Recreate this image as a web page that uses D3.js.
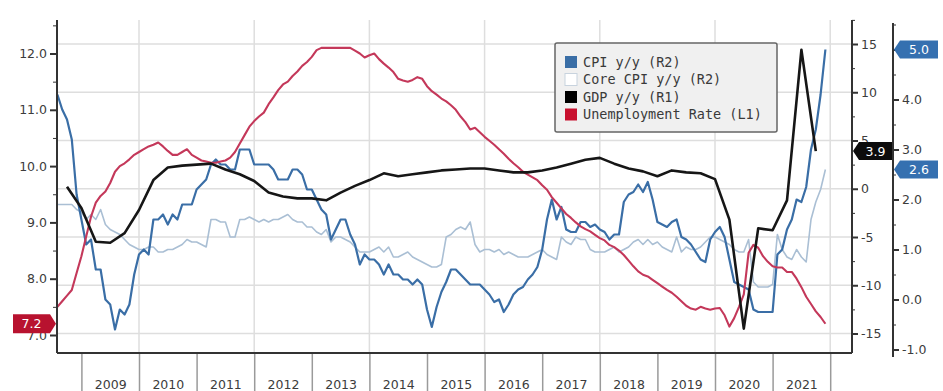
<!DOCTYPE html>
<html><head><meta charset="utf-8">
<script src="https://cdn.jsdelivr.net/npm/d3@7"></script>
<style>html,body{margin:0;padding:0;background:#fff;}svg{display:block;}</style>
</head><body><svg id="c" width="943" height="391"></svg>
<script>
// ---------- data ----------
const startYear = 2008, startMonth = 7; // monthly series start (Jul 2008)
const cpi = [
 4.1,3.8,3.6,3.2,2.1,1.6,
 1.1,1.2,0.6,0.6,0.0,-0.1,-0.6,-0.2,-0.3,-0.1,0.5,0.9,
 1.0,0.9,1.6,1.6,1.7,1.5,1.7,1.6,1.9,1.9,1.9,2.2,
 2.3,2.4,2.7,2.8,2.7,2.7,2.6,2.6,3.0,3.0,3.0,2.7,
 2.7,2.7,2.7,2.6,2.4,2.4,2.4,2.6,2.6,2.5,2.2,2.2,
 2.0,1.8,1.7,1.2,1.4,1.6,1.6,1.3,1.1,0.7,0.9,0.8,
 0.8,0.7,0.5,0.7,0.5,0.5,0.4,0.4,0.3,0.4,0.3,-0.2,
 -0.55,-0.15,0.15,0.35,0.6,0.6,0.5,0.4,0.3,0.3,0.3,0.2,
 0.1,-0.05,0.0,-0.25,-0.1,0.1,0.2,0.25,0.4,0.5,0.65,1.0,
 1.6,2.0,1.6,1.85,1.4,1.35,1.35,1.55,1.55,1.45,1.5,1.4,
 1.35,1.2,1.3,1.3,1.95,2.1,2.15,2.3,2.15,2.35,2.0,1.55,
 1.5,1.45,1.55,1.6,1.25,1.2,1.1,0.95,0.8,0.75,1.2,1.35,
 1.45,1.25,0.8,0.35,0.3,0.25,0.2,-0.2,-0.25,-0.25,-0.25,-0.25,
 0.9,1.0,1.4,1.6,2.0,1.95,2.25,3.0,3.4,4.1,5.0
];
const coreCpi = [
 1.9,1.9,1.9,1.9,1.8,1.75,
 1.6,1.7,1.6,1.8,1.5,1.4,1.35,1.3,1.2,1.1,1.05,1.0,
 1.0,1.05,1.05,0.95,0.95,1.0,1.0,1.05,1.1,1.2,1.15,1.15,
 1.1,1.05,1.6,1.6,1.55,1.55,1.25,1.25,1.6,1.6,1.65,1.6,
 1.55,1.6,1.55,1.6,1.6,1.65,1.7,1.6,1.55,1.55,1.45,1.45,
 1.35,1.3,1.4,1.15,1.25,1.25,1.2,1.15,1.05,0.95,0.95,0.95,
 1.0,1.05,0.95,1.05,0.85,0.85,0.9,0.95,0.85,0.8,0.75,0.7,
 0.65,0.65,0.7,1.25,1.3,1.4,1.45,1.4,1.55,1.1,0.95,1.0,
 1.0,0.95,1.0,0.9,0.95,0.9,0.85,0.85,0.85,0.9,0.95,1.0,
 0.9,0.85,0.8,1.25,1.15,1.1,1.25,1.2,1.2,1.0,0.95,0.95,
 0.95,1.0,1.05,0.95,1.0,1.05,1.15,1.2,1.1,1.2,1.1,1.15,
 1.05,1.0,0.95,1.25,0.95,1.05,1.0,1.0,1.05,1.15,1.25,1.25,
 1.2,1.15,1.1,1.0,0.95,0.95,1.2,0.35,0.25,0.25,0.25,0.3,
 1.3,1.0,0.85,0.8,1.0,0.85,0.75,1.6,1.95,2.2,2.6
];
const unemp = [
 7.5,7.6,7.7,7.8,8.1,8.4,
 8.75,9.1,9.35,9.47,9.55,9.7,9.9,10.0,10.05,10.12,10.2,10.25,
 10.3,10.35,10.38,10.42,10.35,10.27,10.2,10.2,10.25,10.3,10.2,10.15,
 10.1,10.08,10.06,10.06,10.08,10.1,10.15,10.25,10.4,10.55,10.7,10.8,
 10.88,10.95,11.1,11.22,11.35,11.45,11.5,11.6,11.68,11.78,11.85,11.94,
 12.06,12.1,12.1,12.1,12.1,12.1,12.1,12.1,12.05,12.0,11.93,11.97,
 12.0,11.9,11.82,11.75,11.67,11.55,11.52,11.5,11.53,11.58,11.55,11.42,
 11.33,11.27,11.2,11.15,11.08,11.0,10.88,10.78,10.65,10.68,10.6,10.52,
 10.45,10.38,10.3,10.22,10.13,10.05,9.98,9.9,9.85,9.8,9.75,9.66,
 9.58,9.45,9.35,9.25,9.15,9.08,9.0,8.93,8.88,8.84,8.78,8.72,
 8.68,8.6,8.56,8.5,8.42,8.32,8.22,8.13,8.07,8.04,7.98,7.92,
 7.86,7.8,7.75,7.68,7.6,7.52,7.47,7.45,7.5,7.47,7.45,7.47,
 7.48,7.35,7.15,7.3,7.5,7.72,8.46,8.6,8.55,8.4,8.3,8.22,
 8.2,8.2,8.12,8.12,8.0,7.85,7.68,7.55,7.42,7.32,7.2
];
const gdpStartYear = 2008, gdpStartQuarter = 3; // quarterly series start (Q3 2008)
const gdp = [
 0.2,-2.0,
 -5.5,-5.6,-4.6,-2.2,
 0.9,2.2,2.4,2.5,
 2.6,2.0,1.5,0.8,
 -0.4,-0.8,-1.0,-1.0,
 -1.2,-0.4,0.3,0.9,
 1.6,1.3,1.5,1.7,
 1.9,2.0,2.1,2.1,
 1.9,1.7,1.7,1.9,
 2.2,2.6,3.0,3.2,
 2.6,2.1,1.8,1.3,
 1.9,1.7,1.6,1.0,
 -3.2,-14.5,-4.1,-4.3,
 -1.2,14.4,3.9
];
const yearLabels = [2009,2010,2011,2012,2013,2014,2015,2016,2017,2018,2019,2020,2021];
const yearBounds = [2009,2010,2011,2012,2013,2014,2015,2016,2017,2018,2019,2020,2021,2022];
const gridYears = [2010,2012,2014,2016,2018,2020,2022];
const leftTicks = [7,8,9,10,11,12];
const leftMinor = [7.5,8.5,9.5,10.5,11.5,12.5];
const r1Ticks = [-15,-10,-5,0,5,10,15];
const r1Minor = [-12.5,-7.5,-2.5,2.5,7.5,12.5,17.5];
const r2Ticks = [-1,0,1,2,3,4,5];
const r2Labelled = [-1,0,1,2,3,4]; // 5.0 is covered by the last-value tag
const r2Minor = [-0.5,0.5,1.5,2.5,3.5,4.5,5.5];
const legendLabels = ["CPI y/y (R2)","Core CPI y/y (R2)","GDP y/y (R1)","Unemployment Rate (L1)"];
const lastLabels = {cpi:"5.0", core:"2.6", gdp:"3.9", unemp:"7.2"};

// ---------- layout ----------
const L = 57, R = 852, T = 20, B = 353, R2X = 893;
const colCPI = "#3a6ea6", colCore = "#aabfd4", colGDP = "#161616", colUn = "#c4385a";
const svg = d3.select("#c");
const font = "DejaVu Sans";

const x = d3.scaleLinear().domain([2010, 2022]).range([139, 830.2]);
const yL = d3.scaleLinear().domain([7, 12]).range([335, 53.5]);
const yR1 = d3.scaleLinear().domain([-15, 15]).range([333.5, 44]);
const yR2 = d3.scaleLinear().domain([-1, 5]).range([349.5, 49.5]);

const monthly = arr => arr.map((v, i) => ({t: startYear + (startMonth + i) / 12, v}));
const quarterly = arr => arr.map((v, i) => ({t: gdpStartYear + (gdpStartQuarter * 3 + i * 3) / 12, v}));

// gridlines
const grid = svg.append("g");
grid.selectAll("line.h").data(r1Ticks).join("line")
  .attr("x1", L).attr("x2", R).attr("y1", d => yR1(d)).attr("y2", d => yR1(d))
  .attr("stroke", "#dedede").attr("stroke-width", 1.5);
grid.selectAll("line.v").data(gridYears).join("line")
  .attr("x1", d => x(d)).attr("x2", d => x(d)).attr("y1", T).attr("y2", B)
  .attr("stroke", "#dedede").attr("stroke-width", 1.5);

// bottom separators & year labels
const bx = svg.append("g").attr("transform", `translate(0,${B})`)
  .call(d3.axisBottom(x).tickValues(yearBounds).tickSize(38).tickFormat(""));
bx.select(".domain").remove();
bx.selectAll("line").attr("stroke", "#9a9a9a").attr("stroke-width", 1.5);
const bl = svg.append("g").attr("transform", `translate(0,${B})`)
  .call(d3.axisBottom(x).tickValues(yearLabels.map(d => d + 0.5)).tickSize(0).tickFormat(d => String(Math.floor(d))));
bl.select(".domain").remove();
bl.selectAll("text").attr("y", 36).attr("dy", 0).attr("font-family", font).attr("font-size", 12.5).attr("fill", "#3c3c3c");

// series
svg.append("clipPath").attr("id", "pc").append("rect")
  .attr("x", L).attr("y", T).attr("width", R - L).attr("height", B - T);
const sg = svg.append("g").attr("clip-path", "url(#pc)");
const line = ys => d3.line().x(d => x(d.t)).y(d => ys(d.v));
sg.append("path").datum(monthly(coreCpi)).attr("d", line(yR2)).attr("fill", "none")
  .attr("stroke", colCore).attr("stroke-width", 1.6).attr("stroke-linejoin", "round");
sg.append("path").datum(monthly(cpi)).attr("d", line(yR2)).attr("fill", "none")
  .attr("stroke", colCPI).attr("stroke-width", 2.2).attr("stroke-linejoin", "round");
sg.append("path").datum(monthly(unemp)).attr("d", line(yL)).attr("fill", "none")
  .attr("stroke", colUn).attr("stroke-width", 2.1).attr("stroke-linejoin", "round");
sg.append("path").datum(quarterly(gdp)).attr("d", line(yR1)).attr("fill", "none")
  .attr("stroke", colGDP).attr("stroke-width", 2.6).attr("stroke-linejoin", "round");

// frame line
svg.append("line").attr("x1", L).attr("x2", R).attr("y1", B).attr("y2", B).attr("stroke", "#333").attr("stroke-width", 2);

// axes
function styleAxis(g) {
  g.select(".domain").remove();
  g.selectAll("line").attr("stroke", "#333");
  g.selectAll("text").attr("font-family", font).attr("font-size", 12.5).attr("fill", "#3c3c3c");
}
const al = svg.append("g").attr("transform", `translate(${L},0)`)
  .call(d3.axisLeft(yL).tickValues(leftTicks).tickSize(7).tickPadding(3).tickFormat(d => d.toFixed(1)));
styleAxis(al); al.selectAll("line").attr("stroke-width", 2);
const alm = svg.append("g").attr("transform", `translate(${L},0)`)
  .call(d3.axisLeft(yL).tickValues(leftMinor).tickSize(4).tickFormat(""));
styleAxis(alm);
svg.append("line").attr("x1", L).attr("x2", L).attr("y1", T).attr("y2", B).attr("stroke", "#333").attr("stroke-width", 2);

const a1 = svg.append("g").attr("transform", `translate(${R},0)`)
  .call(d3.axisRight(yR1).tickValues(r1Ticks).tickSize(6).tickPadding(3).tickFormat(d => String(d)));
styleAxis(a1); a1.selectAll("line").attr("stroke-width", 2);
const a1m = svg.append("g").attr("transform", `translate(${R},0)`)
  .call(d3.axisRight(yR1).tickValues(r1Minor).tickSize(3).tickFormat(""));
styleAxis(a1m);
svg.append("line").attr("x1", R).attr("x2", R).attr("y1", T).attr("y2", B).attr("stroke", "#333").attr("stroke-width", 2);

const a2 = svg.append("g").attr("transform", `translate(${R2X},0)`)
  .call(d3.axisRight(yR2).tickValues(r2Ticks).tickSize(6).tickPadding(3)
    .tickFormat(d => r2Labelled.includes(d) ? d.toFixed(1) : ""));
styleAxis(a2); a2.selectAll("line").attr("stroke-width", 2);
const a2m = svg.append("g").attr("transform", `translate(${R2X},0)`)
  .call(d3.axisRight(yR2).tickValues(r2Minor).tickSize(3).tickFormat(""));
styleAxis(a2m);
svg.append("line").attr("x1", R2X).attr("x2", R2X).attr("y1", 23).attr("y2", 357).attr("stroke", "#333").attr("stroke-width", 2);

// last-value tags
function tagLeftPointing(xTip, y, w, fill, txt) {
  const h = 18, a = 6;
  svg.append("path").attr("d", `M${xTip},${y} L${xTip + a},${y - h / 2} L${xTip + a + w},${y - h / 2} L${xTip + a + w},${y + h / 2} L${xTip + a},${y + h / 2} Z`)
    .attr("fill", fill);
  svg.append("text").attr("x", xTip + a + w / 2).attr("y", y + 4.5).attr("text-anchor", "middle")
    .attr("font-family", font).attr("font-size", 12.5).attr("fill", "#fff").text(txt);
}
function tagRightPointing(xTip, y, w, fill, txt) {
  const h = 19, a = 6;
  svg.append("path").attr("d", `M${xTip},${y} L${xTip - a},${y - h / 2} L${xTip - a - w},${y - h / 2} L${xTip - a - w},${y + h / 2} L${xTip - a},${y + h / 2} Z`)
    .attr("fill", fill);
  svg.append("text").attr("x", xTip - a - w / 2).attr("y", y + 4.5).attr("text-anchor", "middle")
    .attr("font-family", font).attr("font-size", 12.5).attr("fill", "#fff").text(txt);
}
tagLeftPointing(R2X + 1, yR2(cpi[cpi.length - 1]), 38, "#3570b0", lastLabels.cpi);
tagLeftPointing(R2X + 1, yR2(coreCpi[coreCpi.length - 1]), 38, "#3570b0", lastLabels.core);
tagLeftPointing(R + 1, yR1(gdp[gdp.length - 1]), 33, "#0c0c0c", lastLabels.gdp);
tagRightPointing(L - 1, yL(unemp[unemp.length - 1]), 37, "#b8122f", lastLabels.unemp);

// legend
const lg = svg.append("g");
lg.append("rect").attr("x", 555).attr("y", 43).attr("width", 222).attr("height", 89).attr("rx", 2)
  .attr("fill", "#f0f0f0").attr("stroke", "#666").attr("stroke-width", 1.5);
const swatch = [colCPI, "#ffffff", "#000000", "#c8102e"];
legendLabels.forEach((lab, i) => {
  const cy = 62 + i * 17.5;
  lg.append("rect").attr("x", 565).attr("y", cy - 6).attr("width", 12).attr("height", 12)
    .attr("fill", swatch[i]).attr("stroke", i === 1 ? "#c8d3de" : "none");
  lg.append("text").attr("x", 583).attr("y", cy + 4.5).attr("font-family", "DejaVu Sans Mono")
    .attr("font-size", 13.5).attr("fill", "#3a3a3a").text(lab);
});
</script></body></html>
